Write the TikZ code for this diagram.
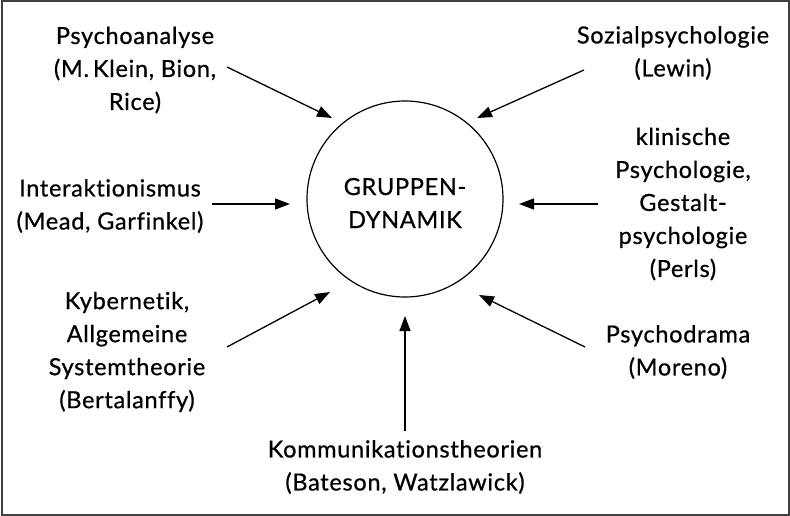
\documentclass[tikz,border=0pt]{standalone}
\usepackage{fontspec}
\setmainfont{Lato}[LetterSpace=3,Ligatures=NoCommon,FakeBold=0.7]
\usetikzlibrary{arrows.meta}
\begin{document}
\begin{tikzpicture}[x=1pt,y=-1pt,
  lbl/.style={align=center,inner sep=0pt,font=\fontsize{23.5}{33}\selectfont},
  arr/.style={line width=1.3pt,-{Triangle[length=15pt,width=11pt]}}]
\useasboundingbox (0,0) rectangle (790,516);
\draw[line width=2pt,black!75] (1.5,1.5) rectangle (788.5,514.5);
\node[draw,circle,line width=1.2pt,minimum size=196pt,inner sep=0pt] (g) at (405,199) {};
\node[lbl] (gt) at (405,203) {GRUPPEN-\\DYNAMIK};
\node[lbl] (psa) at (135,70) {Psychoanalyse\\(M.\,Klein, Bion,\\Rice)};
\node[lbl] (soz) at (673,53) {Sozialpsychologie\\(Lewin)};
\node[lbl] (int) at (110,206) {Interaktionismus\\(Mead, Garfinkel)};
\node[lbl] (kli) at (683,204) {klinische\\Psychologie,\\Gestalt-\\psychologie\\(Perls)};
\node[lbl] (kyb) at (127,352) {Kybernetik,\\Allgemeine\\Systemtheorie\\(Bertalanffy)};
\node[lbl] (psd) at (678,352) {Psychodrama\\(Moreno)};
\node[lbl] (kom) at (405,467) {Kommunikationstheorien\\(Bateson, Watzlawick)};
\coordinate (a1s) at (227,67);  \coordinate (a1e) at (332,118);
\coordinate (a2s) at (584,70);  \coordinate (a2e) at (477,118);
\coordinate (a3s) at (212,204); \coordinate (a3e) at (290,204);
\coordinate (a4s) at (598,204); \coordinate (a4e) at (519,204);
\coordinate (a5s) at (227,347); \coordinate (a5e) at (330,292);
\coordinate (a6s) at (585,347); \coordinate (a6e) at (479,295);
\coordinate (a7s) at (405,431); \coordinate (a7e) at (405,316);
\draw[arr] (a1s) -- (a1e);
\draw[arr] (a2s) -- (a2e);
\draw[arr] (a3s) -- (a3e);
\draw[arr] (a4s) -- (a4e);
\draw[arr] (a5s) -- (a5e);
\draw[arr] (a6s) -- (a6e);
\draw[arr] (a7s) -- (a7e);
\end{tikzpicture}
\end{document}
